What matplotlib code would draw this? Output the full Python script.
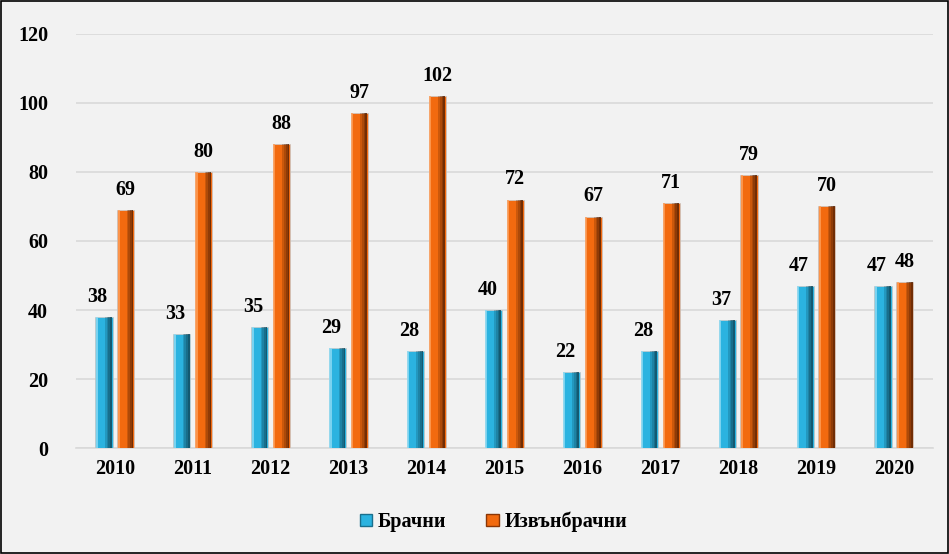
import matplotlib.pyplot as plt
import numpy as np
from matplotlib.patches import Patch

years = ['2010', '2011', '2012', '2013', '2014', '2015', '2016', '2017', '2018', '2019', '2020']
marital = [38, 33, 35, 29, 28, 40, 22, 28, 37, 47, 47]
extramarital = [69, 80, 88, 97, 102, 72, 67, 71, 79, 70, 48]
labels = ['Брачни', 'Извънбрачни']

plt.rcParams['font.family'] = ['Liberation Serif', 'DejaVu Serif']
plt.rcParams['font.weight'] = 'bold'

fig = plt.figure(figsize=(9.49, 5.54), dpi=100, facecolor='#f2f2f2')
ax = fig.add_axes([0.080, 0.191, 0.903, 0.748])
ax.set_facecolor('#f2f2f2')

x = np.arange(len(years))
w = 0.22
off = 0.14

# main bars + bevel strips (light left edge, darkening right side)
styles = [
    (marital, -off, '#2bb3e0', '#8fdcf5', '#0f4a5e'),
    (extramarital, off, '#f26a0f', '#ff9f5a', '#5a2303'),
]
for vals, dx, base, light, dark in styles:
    ax.bar(x + dx, vals, width=w, color=base, edgecolor='#c8c8c8', linewidth=0.5, zorder=3)
    ax.bar(x + dx - w * 0.42, vals, width=w * 0.12, color=light, alpha=0.8, zorder=4)
    for k, a in enumerate([0.25, 0.45, 0.65, 0.85]):
        ax.bar(x + dx + w * (0.1 + 0.1 * k), vals, width=w * 0.1, color=dark, alpha=a,
               linewidth=0, zorder=4)

for i in range(len(years)):
    ax.text(x[i] - off - 0.08, marital[i] + 3, str(marital[i]), ha='center', va='bottom',
            fontsize=14.5, fontweight='bold')
    ax.text(x[i] + off, extramarital[i] + 3, str(extramarital[i]), ha='center', va='bottom',
            fontsize=14.5, fontweight='bold')

ax.set_xlim(-0.5, 10.5)
ax.set_ylim(0, 120)
ax.set_yticks(range(0, 121, 20))
ax.set_xticks(x)
ax.set_xticklabels(years)
ax.tick_params(axis='both', length=0, labelsize=14.5, pad=8)
ax.tick_params(axis='y', pad=20)
for lbl in ax.get_xticklabels() + ax.get_yticklabels():
    lbl.set_fontweight('bold')

ax.grid(axis='y', color='#d9d9d9', linewidth=1.2, zorder=0)
for s in ['top', 'right', 'left']:
    ax.spines[s].set_visible(False)
ax.spines['bottom'].set_color('#d9d9d9')
ax.spines['bottom'].set_linewidth(1.2)

handles = [Patch(facecolor='#2bb3e0', edgecolor='#1a6f8c'),
           Patch(facecolor='#f26a0f', edgecolor='#8a3606')]
fig.legend(handles, labels, loc='center', bbox_to_anchor=(0.52, 0.058), ncol=2,
           frameon=False, prop={'size': 14.5, 'weight': 'bold'},
           handlelength=0.6, handleheight=0.6, handletextpad=0.3, columnspacing=2.0)

border = plt.Rectangle((0.001, 0.001), 0.998, 0.997, transform=fig.transFigure,
                       fill=False, edgecolor='black', linewidth=1.2)
fig.patches.append(border)

fig.savefig('out.png', dpi=100, facecolor=fig.get_facecolor())
